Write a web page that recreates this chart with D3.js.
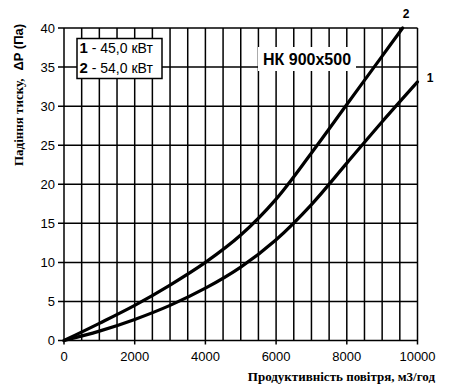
<!DOCTYPE html>
<html>
<head>
<meta charset="utf-8">
<script src="https://cdn.jsdelivr.net/npm/d3@7"></script>
<style>
  body { margin: 0; background: #fff; }
  svg { display: block; }
  .grid line { stroke: #000; stroke-width: 1.5; }
  .sans { font-family: "Liberation Sans", Arial, sans-serif; }
  .serif { font-family: "Liberation Serif", "Times New Roman", serif; }
  .tick-lbl { font-size: 13px; fill: #000; }
  .curve { fill: none; stroke: #000; stroke-width: 3.2; stroke-linejoin: round; stroke-linecap: round; }
</style>
</head>
<body>
<div id="chart"></div>
<script>
// data
var flowTicks = [0, 2000, 4000, 6000, 8000, 10000];
var pressTicks = [0, 5, 10, 15, 20, 25, 30, 35, 40];

// curve 1 (45,0 кВт)
var flow1 = [0, 1000, 2000, 3000, 4000, 5000, 6000, 7000, 8000, 9000, 10000];
var press1 = [0, 1.2, 2.7, 4.5, 6.7, 9.4, 12.9, 17.4, 22.7, 28.0, 33.1];

// curve 2 (54,0 кВт)
var flow2 = [0, 1000, 2000, 3000, 4000, 5000, 6000, 7000, 8000, 9000, 9580];
var press2 = [0, 2.2, 4.5, 7.1, 10, 13.5, 18.1, 24, 30.2, 36.4, 40];

var legendRows = [{n: "1", t: " - 45,0  кВт"}, {n: "2", t: " - 54,0  кВт"}];
var title = "НК 900x500";

var width = 450, height = 389;
var mLeft = 64, mRight = 417.5, mTop = 28, mBottom = 340.5; // plot box in px

var svg = d3.select("#chart").append("svg")
	.attr("width", width)
	.attr("height", height);

var x = d3.scaleLinear().domain([0, 10000]).range([mLeft, mRight]);
var y = d3.scaleLinear().domain([0, 40]).range([mBottom, mTop]);

// grid: verticals every 500, horizontals every 5
var grid = svg.append("g").attr("class", "grid");
grid.selectAll("line.v")
	.data(d3.range(0, 10001, 500))
	.enter().append("line")
	.attr("class", "v")
	.attr("x1", function(d) { return x(d); })
	.attr("x2", function(d) { return x(d); })
	.attr("y1", mTop)
	.attr("y2", function(d) { return (d % 2000 == 0) ? mBottom + 4 : mBottom; });

grid.selectAll("line.h")
	.data(pressTicks)
	.enter().append("line")
	.attr("class", "h")
	.attr("x1", mLeft - 6)
	.attr("x2", mRight)
	.attr("y1", function(d) { return y(d); })
	.attr("y2", function(d) { return y(d); });

// tick labels
svg.selectAll("text.yl")
	.data(pressTicks)
	.enter().append("text")
	.attr("class", "tick-lbl sans")
	.attr("x", mLeft - 9)
	.attr("y", function(d) { return y(d); })
	.attr("dy", "0.35em")
	.attr("text-anchor", "end")
	.text(function(d) { return d; });

svg.selectAll("text.xl")
	.data(flowTicks)
	.enter().append("text")
	.attr("class", "tick-lbl sans")
	.attr("x", function(d) { return x(d); })
	.attr("y", mBottom + 20)
	.attr("text-anchor", "middle")
	.text(function(d) { return d; });

// title box over the grid
svg.append("rect")
	.attr("x", 258).attr("y", 47)
	.attr("width", 98).attr("height", 24)
	.attr("fill", "#fff");
svg.append("text")
	.attr("class", "sans")
	.attr("x", 307).attr("y", 59)
	.attr("dy", "0.35em")
	.attr("text-anchor", "middle")
	.style("font-size", "16px")
	.style("font-weight", "bold")
	.text(title);

// legend
svg.append("rect")
	.attr("x", 77).attr("y", 38.5)
	.attr("width", 85).attr("height", 40)
	.attr("fill", "#fff")
	.attr("stroke", "#000")
	.attr("stroke-width", 1.5);
var lg = svg.selectAll("text.lg")
	.data(legendRows)
	.enter().append("text")
	.attr("class", "sans")
	.attr("x", 79.5)
	.attr("y", function(d, i) { return 48 + i * 20; })
	.attr("dy", "0.35em")
	.style("font-size", "14px");
lg.append("tspan").style("font-weight", "bold").style("font-size", "15px").text(function(d) { return d.n; });
lg.append("tspan").text(function(d) { return d.t; });

// curves
var line = d3.line()
	.x(function(d) { return x(d[0]); })
	.y(function(d) { return y(d[1]); })
	.curve(d3.curveCatmullRom.alpha(0.5));

svg.append("path").attr("class", "curve").attr("d", line(d3.zip(flow1, press1)));
svg.append("path").attr("class", "curve").attr("d", line(d3.zip(flow2, press2)));

// curve labels
svg.append("text")
	.attr("class", "sans")
	.attr("x", 406).attr("y", 18)
	.attr("text-anchor", "middle")
	.style("font-size", "12px").style("font-weight", "bold")
	.text("2");
svg.append("text")
	.attr("class", "sans")
	.attr("x", 430).attr("y", 82)
	.attr("text-anchor", "middle")
	.style("font-size", "12px").style("font-weight", "bold")
	.text("1");

// axis titles
var yt = svg.append("text")
	.attr("transform", "translate(23,95) rotate(-90)")
	.attr("text-anchor", "middle")
	.style("font-size", "13px").style("font-weight", "bold");
yt.append("tspan").attr("class", "serif").text("Падіння тиску,");
yt.append("tspan").attr("class", "sans").attr("dx", 8).text("ΔP (Па)");

svg.append("text")
	.attr("class", "serif")
	.attr("x", 435).attr("y", 381)
	.attr("text-anchor", "end")
	.style("font-size", "13px").style("font-weight", "bold")
	.text("Продуктивність повітря, м3/год");
</script>
</body>
</html>
